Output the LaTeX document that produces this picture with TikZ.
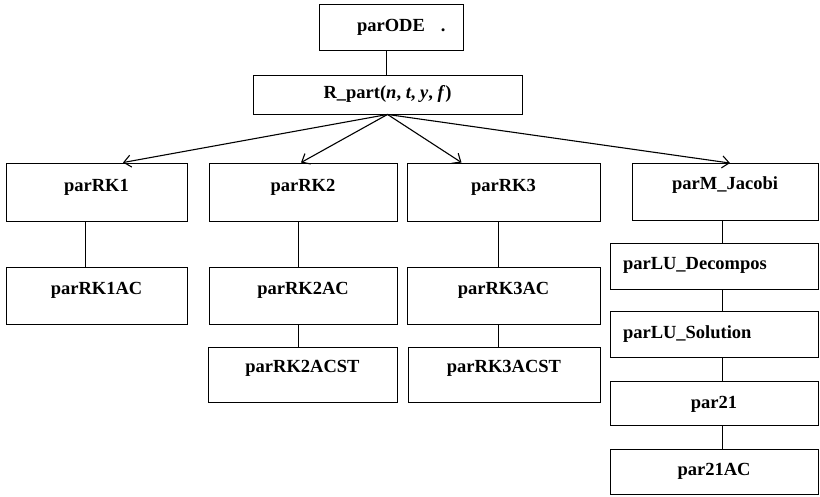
\documentclass[tikz,border=0pt]{standalone}
\usepackage{fontspec}
\setmainfont{Liberation Serif}
\usetikzlibrary{arrows.meta}
\begin{document}
\begin{tikzpicture}[x=1pt,y=-1pt,
  box/.style={draw, line width=0.9pt, inner sep=0pt,
    font=\fontsize{18.5}{22}\selectfont\bfseries, text height=13pt},
  lbox/.style={box, align=left, inner xsep=13pt, text width=182pt, minimum width=208pt},
  link/.style={line width=0.9pt},
  arr/.style={line width=1.1pt, -{Straight Barb[length=7pt,width=12pt]}}]
\useasboundingbox (0,0) rectangle (820,496);
% top
\node[box, minimum width=144pt, minimum height=46pt, text depth=5pt] (ode) at (391,27) {parODE\rlap{\hspace{16pt}.}};
\node[box, minimum width=269pt, minimum height=39pt, text depth=6pt] (rpart) at (387.5,94.5) {R\_part(\textit{n}, \textit{t}, \textit{y}, \textit{f})};
% row 1
\node[box, minimum width=181pt, minimum height=58pt, text depth=15pt] (rk1) at (96.5,192) {parRK1};
\node[box, minimum width=188pt, minimum height=58pt, text depth=15pt] (rk2) at (303,192) {parRK2};
\node[box, minimum width=193pt, minimum height=58pt, text depth=15pt] (rk3) at (503.5,192) {parRK3};
\node[box, minimum width=186pt, minimum height=57pt, text depth=19pt] (jac) at (725,192) {parM\_Jacobi};
% row 2
\node[box, minimum width=181pt, minimum height=57pt, text depth=16pt] (rk1ac) at (96.5,295.5) {parRK1AC};
\node[box, minimum width=188pt, minimum height=57pt, text depth=16pt] (rk2ac) at (303,295.5) {parRK2AC};
\node[box, minimum width=193pt, minimum height=57pt, text depth=16pt] (rk3ac) at (503.5,295.5) {parRK3AC};
% row 3
\node[box, minimum width=189pt, minimum height=55pt, text depth=18pt] (rk2st) at (302.5,374.5) {parRK2ACST};
\node[box, minimum width=192pt, minimum height=55pt, text depth=18pt] (rk3st) at (504,374.5) {parRK3ACST};
% right column
\node[lbox, minimum height=46pt, text depth=7pt] (lud) at (714,266) {parLU\_Decompos};
\node[lbox, minimum height=46pt, text depth=5pt] (lus) at (714,334) {parLU\_Solution};
\node[box, minimum width=208pt, minimum height=44pt, text depth=3pt] (p21) at (714,403) {par21};
\node[box, minimum width=208pt, minimum height=45pt, text depth=6pt] (p21ac) at (714,471.5) {par21AC};
% connectors
\draw[link] ([xshift=-5pt]ode.south) -- ([xshift=-1.5pt]rpart.north);
\draw[arr] (rpart.south) -- ([xshift=26.5pt]rk1.north);
\draw[arr] (rpart.south) -- ([xshift=-2pt]rk2.north);
\draw[arr] (rpart.south) -- ([xshift=-42pt]rk3.north);
\draw[arr] (rpart.south) -- ([xshift=5pt]jac.north);
\draw[link] ([xshift=-11.5pt]rk1.south) -- ([xshift=-11.5pt]rk1ac.north);
\draw[link] ([xshift=-5pt]rk2.south) -- ([xshift=-5pt]rk2ac.north);
\draw[link] ([xshift=-5.5pt]rk3.south) -- ([xshift=-5.5pt]rk3ac.north);
\draw[link] ([xshift=-5pt]rk2ac.south) -- ([xshift=-4.5pt]rk2st.north);
\draw[link] ([xshift=-5.5pt]rk3ac.south) -- ([xshift=-6pt]rk3st.north);
\draw[link] ([xshift=-3pt]jac.south) -- ([xshift=8pt]lud.north);
\draw[link] ([xshift=8pt]lud.south) -- ([xshift=8pt]lus.north);
\draw[link] ([xshift=8pt]lus.south) -- ([xshift=8pt]p21.north);
\draw[link] ([xshift=8pt]p21.south) -- ([xshift=8pt]p21ac.north);
\end{tikzpicture}
\end{document}
